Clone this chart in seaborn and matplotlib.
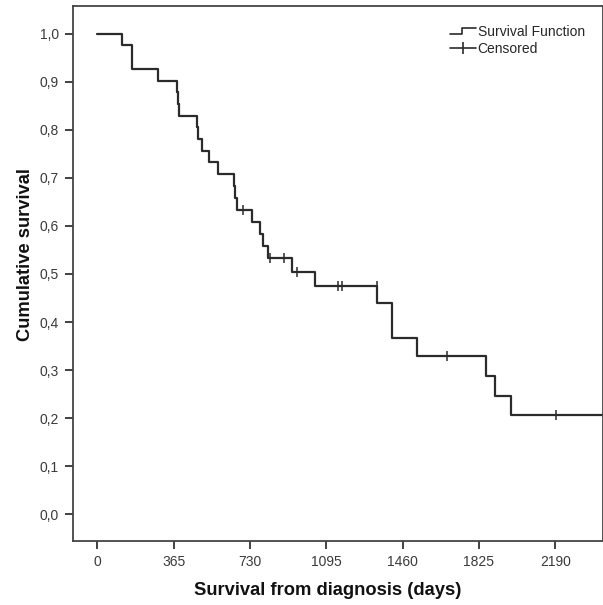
import numpy as np
import pandas as pd
import matplotlib
matplotlib.use("Agg")
import matplotlib.pyplot as plt
from matplotlib.lines import Line2D
from matplotlib.legend_handler import HandlerBase
from matplotlib.ticker import FuncFormatter
import seaborn as sns

# Kaplan-Meier step values
step_days = [0, 120, 164, 289, 380, 385, 391, 475, 480, 499, 536, 576,
             655, 660, 668, 738, 778, 794, 818, 930, 1041, 1339, 1411,
             1530, 1857, 1902, 1978, 2430]
step_surv = [1.000, 0.976, 0.927, 0.902, 0.878, 0.854, 0.829, 0.805, 0.780,
             0.756, 0.732, 0.707, 0.683, 0.659, 0.634, 0.609, 0.584, 0.558,
             0.533, 0.505, 0.475, 0.439, 0.366, 0.329, 0.288, 0.247, 0.206,
             0.206]
censored_days = [698, 826, 893, 956, 1153, 1172, 1336, 1674, 2192]

x_ticks = [0, 365, 730, 1095, 1460, 1825, 2190]
y_ticks = [0.0, 0.1, 0.2, 0.3, 0.4, 0.5, 0.6, 0.7, 0.8, 0.9, 1.0]

line_col = "#2b2b2b"

sns.set_style("ticks")
plt.rcParams['font.family'] = ['Liberation Sans', 'DejaVu Sans']

curve = pd.DataFrame({"days": step_days, "surv": step_surv})
idx = np.searchsorted(step_days, censored_days, side="right") - 1
cens = pd.DataFrame({"days": censored_days,
                     "surv": np.array(step_surv)[idx]})

fig = plt.figure(figsize=(6.03, 6.05), dpi=100)
ax = fig.add_axes([0.1206, 0.1058, 0.8786, 0.884])

sns.lineplot(data=curve, x="days", y="surv", drawstyle="steps-post",
             color=line_col, linewidth=1.6, ax=ax, estimator=None)
sns.scatterplot(data=cens, x="days", y="surv", marker="|", s=45,
                color=line_col, linewidth=1.1, ax=ax, zorder=3)

ax.set_xlim(-118, 2416)
ax.set_ylim(-0.0555, 1.057)
ax.set_xticks(x_ticks)
ax.set_yticks(y_ticks)
ax.yaxis.set_major_formatter(FuncFormatter(lambda v, p: f"{v:.1f}".replace(".", ",")))
ax.tick_params(axis="both", length=6, width=1.3, color="#333333",
               labelsize=10, labelcolor="#3a3a3a", pad=4)
for s in ax.spines.values():
    s.set_color("#444444")
    s.set_linewidth(1.3)

ax.set_xlabel("Survival from diagnosis (days)", fontsize=13.2,
              fontweight="bold", color="#111111")
ax.set_ylabel("Cumulative survival", fontsize=13.2, fontweight="bold",
              color="#111111")
ax.xaxis.set_label_coords(0.482, -0.077)
ax.yaxis.set_label_coords(-0.073, 0.535)


class StepHandler(HandlerBase):
    def create_artists(self, legend, orig_handle, xdescent, ydescent,
                       width, height, fontsize, trans):
        x0, x1 = -xdescent, -xdescent + width
        xm = x0 + 0.45 * width
        lo, hi = -ydescent + 0.2 * height, -ydescent + 0.85 * height
        ln = Line2D([x0, xm, xm, x1], [lo, lo, hi, hi], color=line_col,
                    lw=1.2, transform=trans)
        return [ln]


h_surv = Line2D([], [], color=line_col)
h_cens = Line2D([], [], color=line_col, lw=1.2, marker="|",
                markersize=9, markeredgewidth=1.2)
ax.legend([h_surv, h_cens], ["Survival Function", "Censored"],
          handler_map={h_surv: StepHandler()}, loc="upper right",
          bbox_to_anchor=(0.982, 0.98), frameon=False, fontsize=10,
          handlelength=1.9, handletextpad=0.1, labelspacing=0.2,
          borderaxespad=0.2)

fig.savefig("out.png", dpi=100)
